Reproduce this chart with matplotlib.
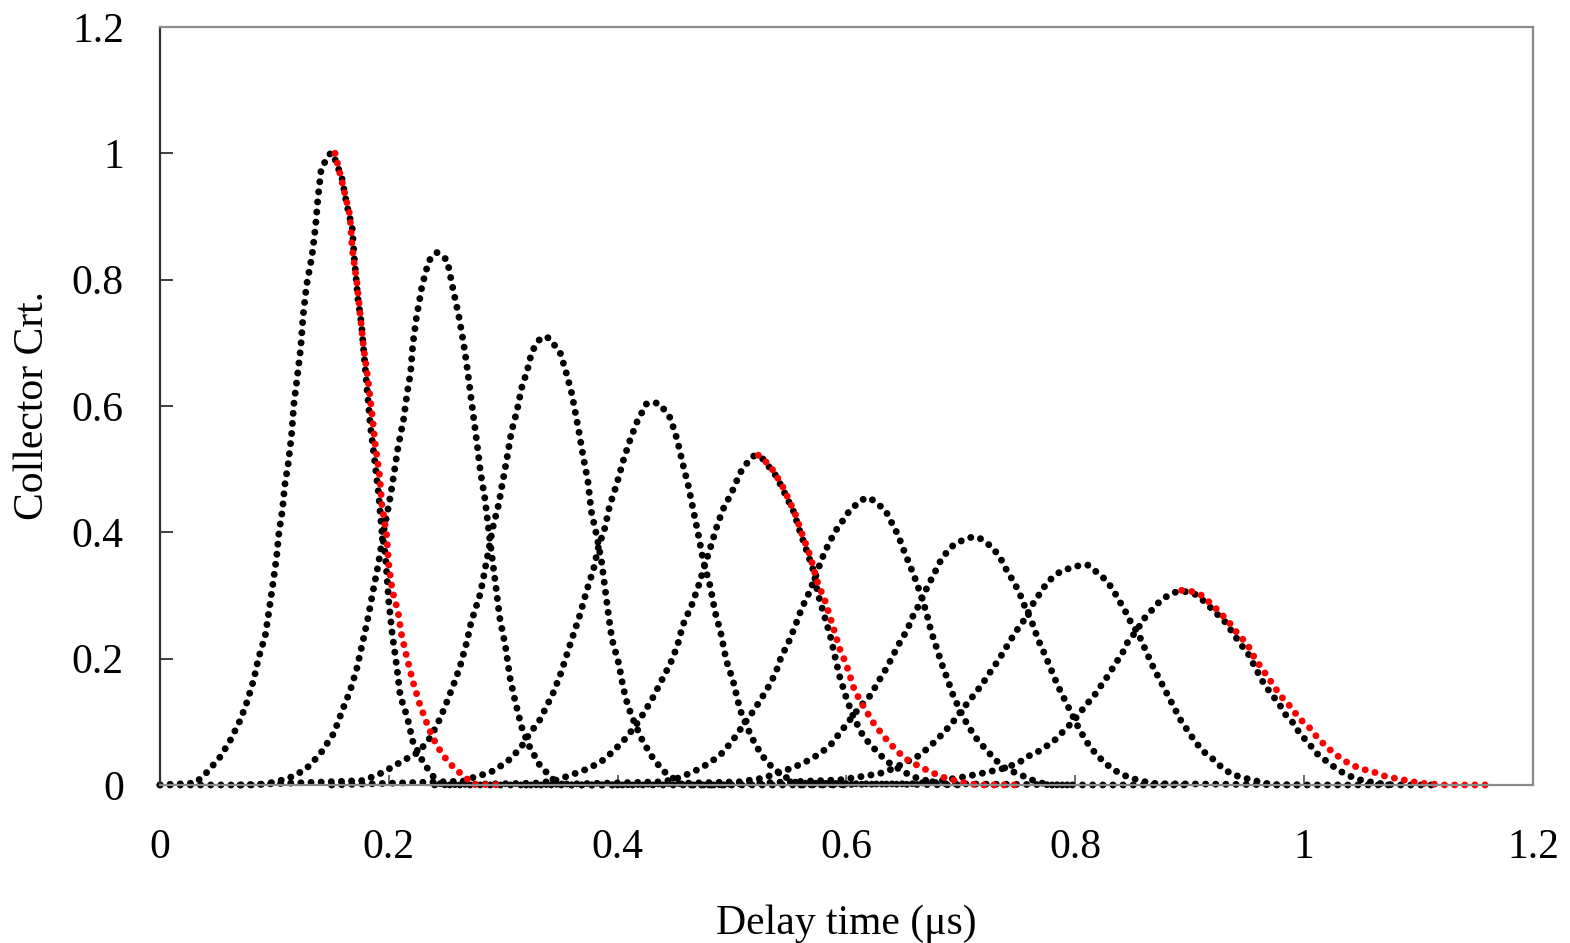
import matplotlib
matplotlib.use("Agg")
import matplotlib.pyplot as plt

# pulse curves (delay time in us, normalised collector current)
c1_x = [0.0, 0.031, 0.041, 0.052, 0.061, 0.070, 0.076, 0.082, 0.086, 0.092, 0.095, 0.099, 0.102, 0.104, 0.107,
        0.109, 0.112, 0.115, 0.117, 0.120, 0.123, 0.125, 0.128, 0.133, 0.136, 0.138, 0.141, 0.149, 0.151,
        0.159, 0.163, 0.168, 0.170, 0.173, 0.176, 0.181, 0.184, 0.188, 0.191, 0.194, 0.197, 0.200, 0.203,
        0.207, 0.210, 0.216, 0.221, 0.230, 0.239, 0.246, 0.40]
c1_y = [0.0, 0.003, 0.020, 0.043, 0.069, 0.102, 0.131, 0.167, 0.200, 0.236, 0.272, 0.322, 0.362, 0.400, 0.435,
        0.474, 0.508, 0.554, 0.603, 0.646, 0.692, 0.741, 0.790, 0.839, 0.885, 0.928, 0.977, 1.0, 1.0,
        0.961, 0.921, 0.882, 0.830, 0.770, 0.731, 0.626, 0.567, 0.508, 0.462, 0.400, 0.364, 0.290, 0.239,
        0.187, 0.141, 0.108, 0.069, 0.036, 0.013, 0.0, 0.0]

c2_x = [0.0, 0.085, 0.102, 0.117, 0.128, 0.140, 0.152, 0.160, 0.166, 0.172, 0.178, 0.182, 0.186, 0.191,
        0.195, 0.200, 0.203, 0.208, 0.213, 0.216, 0.219, 0.221, 0.224, 0.229, 0.235, 0.242,
        0.251, 0.256, 0.261, 0.265, 0.268, 0.271, 0.274, 0.277, 0.280, 0.284, 0.287, 0.290, 0.294, 0.297,
        0.302, 0.306, 0.310, 0.316, 0.322, 0.332, 0.344, 0.353, 0.50]
c2_y = [0.0, 0.0, 0.005, 0.014, 0.026, 0.049, 0.082, 0.121, 0.148, 0.184, 0.233, 0.266, 0.305, 0.351,
        0.397, 0.443, 0.475, 0.534, 0.580, 0.620, 0.652, 0.698, 0.738, 0.790, 0.830, 0.843,
        0.831, 0.786, 0.744, 0.703, 0.667, 0.625, 0.583, 0.542, 0.497, 0.453, 0.408, 0.364, 0.308, 0.264,
        0.219, 0.169, 0.136, 0.092, 0.064, 0.031, 0.008, 0.0, 0.0]

c3_x = [0.07, 0.178, 0.195, 0.213, 0.226, 0.235, 0.242, 0.248, 0.256, 0.262, 0.268, 0.272, 0.280, 0.283,
        0.287, 0.291, 0.296, 0.299, 0.303, 0.307, 0.312, 0.316, 0.321, 0.325, 0.332, 0.337,
        0.341, 0.350, 0.355, 0.360, 0.366, 0.370, 0.374, 0.377, 0.382, 0.386, 0.389, 0.392, 0.395, 0.401,
        0.405, 0.409, 0.415, 0.422, 0.431, 0.440, 0.452, 0.457, 0.60]
c3_y = [0.0, 0.007, 0.020, 0.039, 0.052, 0.072, 0.094, 0.119, 0.156, 0.186, 0.225, 0.258, 0.303, 0.331,
        0.369, 0.408, 0.444, 0.475, 0.514, 0.558, 0.592, 0.628, 0.656, 0.686, 0.706, 0.710,
        0.706, 0.683, 0.653, 0.619, 0.561, 0.519, 0.481, 0.433, 0.392, 0.353, 0.311, 0.269, 0.231, 0.192,
        0.153, 0.125, 0.097, 0.069, 0.042, 0.022, 0.006, 0.0, 0.0]

c4_x = [0.15, 0.265, 0.277, 0.288, 0.303, 0.315, 0.323, 0.332, 0.338, 0.344, 0.350, 0.355, 0.360, 0.367,
        0.373, 0.379, 0.383, 0.389, 0.393, 0.399, 0.405, 0.411, 0.417, 0.425, 0.431,
        0.437, 0.446, 0.452, 0.457, 0.462, 0.466, 0.471, 0.475, 0.481, 0.485, 0.490, 0.495, 0.501, 0.507,
        0.513, 0.519, 0.526, 0.535, 0.545, 0.557, 0.70]
c4_y = [0.0, 0.006, 0.014, 0.019, 0.036, 0.058, 0.081, 0.103, 0.125, 0.147, 0.175, 0.203, 0.231, 0.269,
        0.308, 0.342, 0.375, 0.408, 0.442, 0.475, 0.514, 0.547, 0.575, 0.603, 0.606,
        0.603, 0.581, 0.547, 0.508, 0.472, 0.436, 0.392, 0.353, 0.314, 0.275, 0.242, 0.197, 0.164, 0.119,
        0.092, 0.069, 0.047, 0.028, 0.014, 0.003, 0.0]

c5_x = [0.24, 0.332, 0.347, 0.361, 0.373, 0.385, 0.396, 0.406, 0.415, 0.424, 0.431, 0.438, 0.446, 0.452,
        0.457, 0.465, 0.471, 0.476, 0.482, 0.487, 0.492, 0.500, 0.507, 0.516, 0.520,
        0.527, 0.539, 0.546, 0.554, 0.559, 0.565, 0.571, 0.575, 0.580, 0.586, 0.590, 0.594, 0.600, 0.606,
        0.615, 0.624, 0.631, 0.638, 0.647, 0.658, 0.670, 0.682, 0.80]
c5_y = [0.0, 0.003, 0.008, 0.017, 0.025, 0.036, 0.053, 0.072, 0.092, 0.117, 0.139, 0.164, 0.192, 0.219,
        0.253, 0.286, 0.317, 0.347, 0.381, 0.411, 0.436, 0.464, 0.494, 0.517, 0.522,
        0.516, 0.488, 0.462, 0.432, 0.403, 0.372, 0.340, 0.303, 0.272, 0.235, 0.203, 0.172, 0.137, 0.108,
        0.076, 0.058, 0.045, 0.034, 0.024, 0.013, 0.007, 0.002, 0.0]

c6_x = [0.32, 0.44, 0.455, 0.472, 0.482, 0.491, 0.500, 0.508, 0.517, 0.524, 0.532, 0.538, 0.543, 0.549,
        0.555, 0.561, 0.567, 0.573, 0.578, 0.584, 0.590, 0.597, 0.603, 0.613, 0.619,
        0.623, 0.634, 0.639, 0.645, 0.650, 0.656, 0.661, 0.666, 0.670, 0.674, 0.679, 0.683, 0.688, 0.693,
        0.699, 0.705, 0.712, 0.721, 0.730, 0.739, 0.752, 0.766, 0.778, 0.90]
c6_y = [0.0, 0.005, 0.012, 0.026, 0.037, 0.050, 0.069, 0.090, 0.113, 0.132, 0.156, 0.177, 0.203, 0.224,
        0.251, 0.280, 0.303, 0.330, 0.356, 0.380, 0.401, 0.419, 0.435, 0.451, 0.455,
        0.451, 0.435, 0.417, 0.396, 0.372, 0.345, 0.322, 0.295, 0.272, 0.243, 0.216, 0.193, 0.169, 0.143,
        0.119, 0.098, 0.077, 0.058, 0.040, 0.026, 0.016, 0.005, 0.0, 0.0]

c7_x = [0.40, 0.507, 0.524, 0.536, 0.548, 0.559, 0.568, 0.577, 0.586, 0.594, 0.603, 0.612, 0.621, 0.628,
        0.635, 0.641, 0.647, 0.653, 0.658, 0.664, 0.670, 0.676, 0.682, 0.689, 0.695, 0.705, 0.711,
        0.717, 0.727, 0.734, 0.740, 0.746, 0.751, 0.756, 0.762, 0.768, 0.774, 0.779, 0.785, 0.791, 0.797,
        0.803, 0.810, 0.818, 0.827, 0.838, 0.847, 0.858, 0.871, 1.0]
c7_y = [0.0, 0.005, 0.010, 0.016, 0.024, 0.032, 0.040, 0.050, 0.063, 0.082, 0.103, 0.124, 0.142, 0.164,
        0.185, 0.206, 0.227, 0.245, 0.267, 0.287, 0.311, 0.332, 0.354, 0.372, 0.382, 0.390, 0.393,
        0.390, 0.377, 0.361, 0.340, 0.322, 0.305, 0.282, 0.258, 0.228, 0.204, 0.182, 0.156, 0.134, 0.112,
        0.090, 0.068, 0.049, 0.033, 0.019, 0.012, 0.006, 0.002, 0.0]

c8_x = [0.48, 0.594, 0.612, 0.629, 0.641, 0.653, 0.664, 0.674, 0.683, 0.692, 0.701, 0.709, 0.718, 0.725,
        0.733, 0.740, 0.747, 0.756, 0.762, 0.769, 0.776, 0.787, 0.800, 0.806,
        0.811, 0.820, 0.827, 0.833, 0.838, 0.844, 0.849, 0.855, 0.862, 0.868, 0.874, 0.880, 0.886, 0.892,
        0.899, 0.905, 0.912, 0.921, 0.929, 0.938, 0.950, 0.961, 0.973, 1.08]
c8_y = [0.0, 0.008, 0.013, 0.018, 0.026, 0.037, 0.047, 0.063, 0.079, 0.097, 0.119, 0.137, 0.158, 0.177,
        0.198, 0.219, 0.240, 0.263, 0.284, 0.303, 0.322, 0.338, 0.346, 0.348,
        0.348, 0.335, 0.324, 0.309, 0.293, 0.274, 0.256, 0.240, 0.211, 0.187, 0.166, 0.145, 0.124, 0.103,
        0.084, 0.068, 0.053, 0.040, 0.026, 0.016, 0.010, 0.005, 0.0, 0.0]

c9_x = [0.56, 0.66, 0.68, 0.70, 0.72, 0.737, 0.746, 0.752, 0.758, 0.765, 0.772, 0.781, 0.788, 0.795, 0.803,
        0.808, 0.816, 0.822, 0.829, 0.835, 0.841, 0.846, 0.854, 0.859, 0.867, 0.875, 0.884, 0.889,
        0.897, 0.906, 0.913, 0.922, 0.931, 0.938, 0.944, 0.951, 0.957, 0.963, 0.970, 0.978, 0.983, 0.991,
        0.996, 1.004, 1.011, 1.020, 1.028, 1.037, 1.049, 1.063, 1.078, 1.116]
c9_y = [0.0, 0.002, 0.006, 0.012, 0.019, 0.026, 0.032, 0.037, 0.045, 0.050, 0.058, 0.069, 0.082, 0.095, 0.111,
        0.124, 0.140, 0.156, 0.174, 0.192, 0.208, 0.227, 0.245, 0.261, 0.277, 0.293, 0.303, 0.306,
        0.306, 0.301, 0.290, 0.274, 0.258, 0.240, 0.224, 0.208, 0.187, 0.166, 0.147, 0.129, 0.113, 0.097,
        0.082, 0.066, 0.050, 0.037, 0.026, 0.016, 0.008, 0.003, 0.0, 0.0]

# red traces (falling side only) of pulses 1, 5 and 9
r1_x = [0.153, 0.160, 0.166, 0.168, 0.172, 0.175, 0.178, 0.182, 0.185, 0.188, 0.192, 0.194, 0.198, 0.200,
        0.203, 0.208, 0.211, 0.216, 0.221, 0.227, 0.235, 0.242, 0.252, 0.264, 0.274, 0.302]
r1_y = [1.0, 0.948, 0.902, 0.849, 0.797, 0.744, 0.692, 0.639, 0.593, 0.541, 0.489, 0.443, 0.397, 0.348,
        0.308, 0.275, 0.239, 0.200, 0.164, 0.128, 0.089, 0.062, 0.036, 0.016, 0.001, 0.0]

r5_x = [0.523, 0.533, 0.543, 0.549, 0.555, 0.562, 0.568, 0.575, 0.581, 0.587, 0.594, 0.600, 0.607, 0.615,
        0.624, 0.634, 0.642, 0.651, 0.661, 0.673, 0.685, 0.699, 0.714, 0.748]
r5_y = [0.522, 0.506, 0.477, 0.454, 0.430, 0.393, 0.364, 0.319, 0.293, 0.258, 0.216, 0.190, 0.150, 0.124,
        0.097, 0.074, 0.058, 0.042, 0.032, 0.021, 0.012, 0.005, 0.0, 0.0]

r9_x = [0.893, 0.903, 0.909, 0.915, 0.926, 0.935, 0.943, 0.950, 0.957, 0.964, 0.972, 0.979, 0.988, 0.996,
        1.005, 1.012, 1.021, 1.030, 1.039, 1.049, 1.060, 1.072, 1.087, 1.101, 1.122, 1.163]
r9_y = [0.308, 0.306, 0.302, 0.293, 0.274, 0.256, 0.237, 0.224, 0.200, 0.182, 0.161, 0.142, 0.124, 0.105,
        0.090, 0.074, 0.058, 0.045, 0.034, 0.026, 0.021, 0.013, 0.008, 0.003, 0.0, 0.0]

black_curves = [(c1_x, c1_y), (c2_x, c2_y), (c3_x, c3_y), (c4_x, c4_y), (c5_x, c5_y),
                (c6_x, c6_y), (c7_x, c7_y), (c8_x, c8_y), (c9_x, c9_y)]
red_curves = [(r1_x, r1_y), (r5_x, r5_y), (r9_x, r9_y)]

ticks = [0, 0.2, 0.4, 0.6, 0.8, 1.0, 1.2]
tick_labels = ["0", "0.2", "0.4", "0.6", "0.8", "1", "1.2"]

plt.rcParams['font.family'] = ['Liberation Serif', 'DejaVu Serif']

fig = plt.figure(figsize=(15.7, 9.43), dpi=100)
ax = fig.add_axes([0.1019, 0.1676, 0.8745, 0.8038])

dot_style = dict(linestyle=(0, (0.01, 1.45)), linewidth=5.0, dash_capstyle='round', clip_on=False)
for xs, ys in black_curves:
    ax.plot(xs, ys, color='black', **dot_style)
for xs, ys in red_curves:
    ax.plot(xs, ys, color='#ff0000', **dot_style)

ax.set_xlim(0, 1.2)
ax.set_ylim(0, 1.2)
ax.set_xticks(ticks)
ax.set_xticklabels(tick_labels)
ax.set_yticks(ticks)
ax.set_yticklabels(tick_labels)
ax.tick_params(axis='both', direction='in', labelsize=30, width=1.3)
ax.tick_params(axis='x', length=7, pad=31, color='#606060')
ax.tick_params(axis='y', length=9, pad=26, color='#303030')

ax.spines['left'].set_color('#303030')
for side in ['top', 'right', 'bottom']:
    ax.spines[side].set_color('#8a8a8a')
for side in ax.spines:
    ax.spines[side].set_linewidth(1.6)

ax.set_xlabel('Delay time (\u03bcs)', fontsize=30, labelpad=27)
ax.set_ylabel('Collector Crt.', fontsize=30, labelpad=14)

fig.savefig('out.png', dpi=100)
